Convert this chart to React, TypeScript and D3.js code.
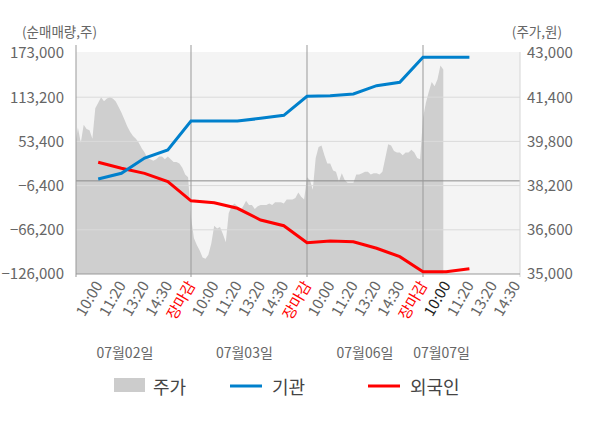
import React, { useEffect, useRef } from 'react';
import * as d3 from 'd3';

// x categories: per day 10:00, 11:20, 13:20, 14:30, 장마감
const dayLabels = ['07월02일', '07월03일', '07월06일', '07월07일'];
const timeLabels = ['10:00', '11:20', '13:20', '14:30', '장마감'];
const leftTicks = [173000, 113200, 53400, -6400, -66200, -126000];
const rightTicks = [43000, 41400, 39800, 38200, 36600, 35000];

// cumulative net buying (shares), one point per label slot starting at 07/02 10:00
const instNet = [
  2500, 10200, 30900, 41800, 81000,
  81000, 81000, 84600, 88700, 114500,
  115200, 117500, 128800, 133400, 167200,
  167200, 167200,
];
const foreignNet = [
  25100, 17000, 10200, -1100, -27000,
  -29500, -37100, -52900, -60700, -83700,
  -81300, -82300, -91200, -102600, -122900,
  -122900, -118800,
];

// intraday price (won), 40 samples per full session
const priceDay1 = [
  39850, 40300, 39750, 40400, 40250, 40200, 39900, 41000, 41200, 41400,
  41250, 41350, 41400, 41350, 41250, 41050, 40850, 40600, 40350, 40150,
  40000, 39900, 39750, 39550, 39400, 39200, 39150, 39100, 39150, 39250,
  39250, 39150, 39250, 39150, 39050, 39050, 39000, 38850, 38600, 38500,
];
const priceDay2 = [
  37050, 36300, 36050, 35850, 35600, 35550, 35700, 36100, 36750, 36650,
  36700, 36450, 36150, 37200, 37450, 37550, 37450, 37300, 37450, 37650,
  37500, 37500, 37350, 37450, 37500, 37500, 37500, 37550, 37500, 37600,
  37600, 37600, 37550, 37700, 37700, 37700, 37750, 37950, 37800, 37700,
];
const priceDay3 = [
  38500, 38400, 38050, 39200, 39600, 39650, 39300, 39000, 39000, 38750,
  38700, 38350, 38650, 38400, 38300, 38300, 38300, 38600, 38600, 38650,
  38700, 38700, 38600, 38650, 38650, 38600, 38700, 39200, 39700, 39650,
  39450, 39400, 39400, 39300, 39400, 39400, 39500, 39400, 39200, 39150,
];
const priceDay4 = [40650, 41200, 41600, 41950, 41800, 42050, 42550, 42400];

const FONT = "'Noto Sans CJK KR', 'Noto Sans', sans-serif";

const App: React.FC = () => {
  const ref = useRef<SVGSVGElement | null>(null);

  useEffect(() => {
    if (!ref.current) return;
    const svg = d3.select(ref.current);
    svg.selectAll('*').remove();

    const plot = { left: 76, right: 520, top: 52, bottom: 274 };
    const slotsPerDay = 5;

    const x = d3.scaleLinear().domain([0, 19]).range([75, 515.8]);
    const yLeft = d3.scaleLinear().domain([-126000, 173000]).range([274, 53]);
    const yRight = d3.scaleLinear().domain([35000, 43000]).range([274, 53]);

    // plot background
    svg.append('rect')
      .attr('x', plot.left).attr('y', plot.top)
      .attr('width', plot.right - plot.left).attr('height', plot.bottom - plot.top)
      .attr('fill', '#f4f4f4');

    // price area
    const days = [priceDay1, priceDay2, priceDay3, priceDay4];
    const pricePts: { k: number; p: number }[] = [];
    days.forEach((arr, d) => {
      arr.forEach((p, j) => pricePts.push({ k: d * slotsPerDay + (j * slotsPerDay) / 40, p }));
    });
    const area = d3.area<{ k: number; p: number }>()
      .x((d) => Math.max(plot.left, x(d.k)))
      .y0(plot.bottom)
      .y1((d) => yRight(d.p));
    svg.append('path').datum(pricePts).attr('d', area).attr('fill', '#cfcfcf');

    // grid lines
    svg.selectAll('.grid')
      .data(leftTicks.slice(1, -1))
      .enter()
      .append('line')
      .attr('x1', plot.left).attr('x2', plot.right)
      .attr('y1', (d) => yLeft(d)).attr('y2', (d) => yLeft(d))
      .attr('stroke', '#dadada');

    // zero line
    svg.append('line')
      .attr('x1', plot.left).attr('x2', plot.right)
      .attr('y1', yLeft(0)).attr('y2', yLeft(0))
      .attr('stroke', '#8a8a8a');

    // right edge
    svg.append('line')
      .attr('x1', plot.right).attr('x2', plot.right)
      .attr('y1', plot.top).attr('y2', plot.bottom + 3)
      .attr('stroke', '#d6d6d6');

    // left axis + day separators
    const seps = [0, 5, 10, 15];
    svg.selectAll('.sep')
      .data(seps)
      .enter()
      .append('line')
      .attr('x1', (d) => (d === 0 ? plot.left : x(d)))
      .attr('x2', (d) => (d === 0 ? plot.left : x(d)))
      .attr('y1', 45).attr('y2', plot.bottom + 3)
      .attr('stroke', '#999');

    // bottom axis
    svg.append('line')
      .attr('x1', plot.left).attr('x2', plot.right)
      .attr('y1', plot.bottom).attr('y2', plot.bottom)
      .attr('stroke', '#999');

    // net buying lines
    const line = d3.line<number>()
      .x((_, i) => x(i + 1))
      .y((d) => yLeft(d));
    svg.append('path').datum(foreignNet).attr('d', line)
      .attr('fill', 'none').attr('stroke', '#ff0000').attr('stroke-width', 3);
    svg.append('path').datum(instNet).attr('d', line)
      .attr('fill', 'none').attr('stroke', '#0080cc').attr('stroke-width', 3);

    // left ticks
    svg.selectAll('.lt')
      .data(leftTicks)
      .enter()
      .append('text')
      .attr('x', 64).attr('y', (d) => yLeft(d))
      .attr('dy', '0.36em')
      .attr('text-anchor', 'end')
      .attr('font-family', FONT).attr('font-size', 15)
      .attr('fill', '#666')
      .text((d) => d3.format(',')(d));

    // right ticks
    svg.selectAll('.rt')
      .data(rightTicks)
      .enter()
      .append('text')
      .attr('x', 527).attr('y', (d) => yRight(d))
      .attr('dy', '0.36em')
      .attr('text-anchor', 'start')
      .attr('font-family', FONT).attr('font-size', 15)
      .attr('fill', '#666')
      .text((d) => d3.format(',')(d));

    // axis titles
    svg.append('text').attr('x', 22).attr('y', 37)
      .attr('font-family', FONT).attr('font-size', 13.5).attr('fill', '#666')
      .text('(순매매량,주)');
    svg.append('text').attr('x', 562).attr('y', 37).attr('text-anchor', 'end')
      .attr('font-family', FONT).attr('font-size', 13.5).attr('fill', '#666')
      .text('(주가,원)');

    // x labels
    const xl: { k: number; t: string; color: string }[] = [];
    dayLabels.forEach((_, d) => {
      timeLabels.forEach((t, j) => {
        if (d === dayLabels.length - 1 && j === timeLabels.length - 1) return;
        let color = '#666';
        if (j === timeLabels.length - 1) color = '#ff0000';
        if (d === dayLabels.length - 1 && j === 0) color = '#222';
        xl.push({ k: d * slotsPerDay + j + 1, t, color });
      });
    });
    svg.selectAll('.xl')
      .data(xl)
      .enter()
      .append('text')
      .attr('transform', (d) => `translate(${x(d.k) + 5},${plot.bottom + 11}) rotate(-60)`)
      .attr('text-anchor', 'end')
      .attr('font-family', FONT).attr('font-size', 15)
      .attr('fill', (d) => d.color)
      .text((d) => d.t);

    // day labels
    const dayCenters = [2.15, 7.3, 12.5, 15.8];
    svg.selectAll('.dl')
      .data(dayLabels)
      .enter()
      .append('text')
      .attr('x', (_, i) => x(dayCenters[i])).attr('y', 358)
      .attr('text-anchor', 'middle')
      .attr('font-family', FONT).attr('font-size', 14)
      .attr('fill', '#666')
      .text((d) => d);

    // legend
    const lg = svg.append('g').attr('font-family', FONT).attr('font-size', 18).attr('fill', '#444');
    lg.append('rect').attr('x', 114).attr('y', 378).attr('width', 31).attr('height', 14).attr('fill', '#cccccc');
    lg.append('text').attr('x', 153).attr('y', 394).text('주가');
    lg.append('line').attr('x1', 230).attr('x2', 262).attr('y1', 386).attr('y2', 386)
      .attr('stroke', '#0080cc').attr('stroke-width', 3);
    lg.append('text').attr('x', 272).attr('y', 394).text('기관');
    lg.append('line').attr('x1', 368).attr('x2', 400).attr('y1', 386).attr('y2', 386)
      .attr('stroke', '#ff0000').attr('stroke-width', 3);
    lg.append('text').attr('x', 410).attr('y', 394).text('외국인');
  }, []);

  return (
    <svg
      ref={ref}
      width={600}
      height={428}
      style={{ position: 'absolute', left: 0, top: 0, background: '#fff' }}
    />
  );
};

export default App;
